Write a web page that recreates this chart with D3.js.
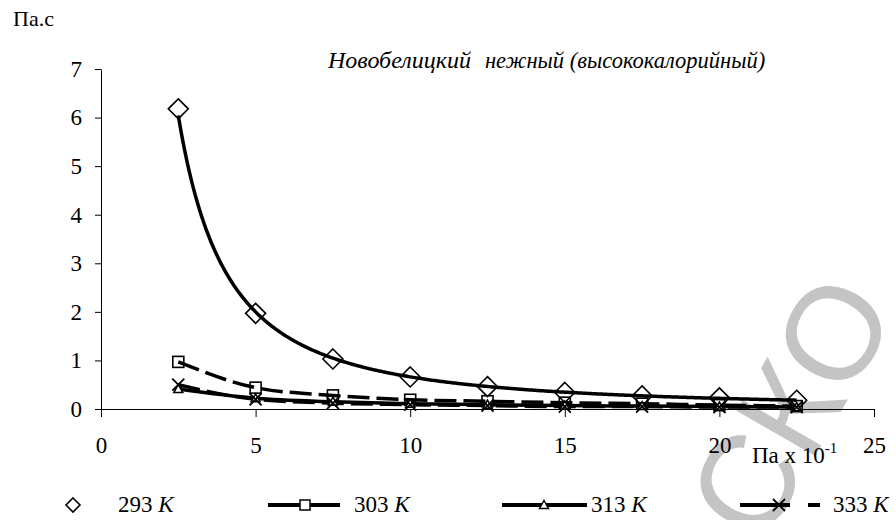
<!DOCTYPE html>
<html lang="ru">
<head>
<meta charset="utf-8">
<script src="https://d3js.org/d3.v7.min.js"></script>
<style>
  body { margin: 0; background: #fff; }
</style>
</head>
<body>
<div id="container"></div>
<script>
// shear rate, Pa x 10^-1
var rates = [2.5, 5, 7.5, 10, 12.5, 15, 17.5, 20, 22.5];
// viscosity, Pa.s
var k293 = [6.18, 1.97, 1.03, 0.66, 0.46, 0.34, 0.27, 0.23, 0.18];
var k303 = [0.97, 0.44, 0.28, 0.19, 0.16, 0.13, 0.11, 0.08, 0.06];
var k313 = [0.41, 0.22, 0.15, 0.11, 0.09, 0.07, 0.06, 0.05, 0.04];
var k333 = [0.50, 0.20, 0.12, 0.09, 0.07, 0.05, 0.05, 0.04, 0.04];
var seriesNames = ["293 K", "303 K", "313 K", "333 K"];
var xTicks = [0, 5, 10, 15, 20, 25];
var yTicks = [0, 1, 2, 3, 4, 5, 6, 7];

var FONT = "'Liberation Serif', 'Times New Roman', serif";
var width = 896, height = 520;

var svg = d3.select("#container")
    .append("svg")
    .attr("width", width)
    .attr("height", height);

var x = d3.scaleLinear().domain([0, 25]).range([101, 874]);
var y = d3.scaleLinear().domain([0, 7]).range([409, 69]);

// watermark
svg.append("text")
    .attr("transform", "translate(762,548) rotate(-60)")
    .style("font-family", "'Liberation Sans', Arial, sans-serif")
    .style("font-size", "132px")
    .style("fill", "#c4c4c4")
    .text("СКО");

// axes
var yAxis = svg.append("g")
    .attr("transform", "translate(" + x(0) + ",0)")
    .call(d3.axisLeft(y).tickValues(yTicks).tickFormat(d3.format("d"))
        .tickSize(6).tickSizeOuter(0).tickPadding(13));
var xAxis = svg.append("g")
    .attr("transform", "translate(0," + y(0) + ")")
    .call(d3.axisBottom(x).tickValues(xTicks).tickFormat(d3.format("d"))
        .tickSize(8).tickSizeOuter(0));
xAxis.selectAll(".tick text").attr("y", 44).attr("dy", null);
svg.selectAll(".domain, .tick line").attr("stroke", "#000");
svg.selectAll(".tick text").style("font-family", FONT).style("font-size", "23px").attr("fill", "#000");

// 293 K: points with a power trend line fitted to them (no series line)
var lx = rates.map(Math.log), ly = k293.map(Math.log);
var mx = d3.mean(lx), my = d3.mean(ly);
var b = d3.sum(lx, function(v, i) { return (v - mx) * (ly[i] - my); }) /
        d3.sum(lx, function(v) { return (v - mx) * (v - mx); });
var a = Math.exp(my - b * mx);
var trendX = d3.range(rates[0], rates[rates.length - 1] + 0.001, 0.05);

var line = d3.line()
    .x(function(d) { return x(d[0]); })
    .y(function(d) { return y(d[1]); });

function pairs(vals) { return rates.map(function(r, i) { return [r, vals[i]]; }); }

var smooth = d3.line()
    .x(function(d) { return x(d[0]); })
    .y(function(d) { return y(d[1]); })
    .curve(d3.curveMonotoneX);

// series lines
svg.append("path").datum(pairs(k333)).attr("d", smooth)
    .attr("fill", "none").attr("stroke", "#000").attr("stroke-width", 3.5)
    .attr("stroke-dasharray", "22,7");
svg.append("path").datum(pairs(k313)).attr("d", smooth)
    .attr("fill", "none").attr("stroke", "#000").attr("stroke-width", 3.5);
svg.append("path").datum(pairs(k303)).attr("d", smooth)
    .attr("fill", "none").attr("stroke", "#000").attr("stroke-width", 3.5)
    .attr("stroke-dasharray", "22,7");

// markers
function marker(g, type, cx, cy) {
  if (type === "diamond") {
    g.append("path").attr("d", "M" + cx + "," + (cy - 10) + "L" + (cx + 10) + "," + cy + "L" + cx + "," + (cy + 10) + "L" + (cx - 10) + "," + cy + "Z")
      .attr("fill", "none").attr("stroke", "#000").attr("stroke-width", 1.6);
  } else if (type === "square") {
    g.append("rect").attr("x", cx - 5.5).attr("y", cy - 5.5).attr("width", 11).attr("height", 11)
      .attr("fill", "none").attr("stroke", "#000").attr("stroke-width", 1.6);
  } else if (type === "triangle") {
    g.append("path").attr("d", "M" + cx + "," + (cy - 4.5) + "L" + (cx + 4.5) + "," + (cy + 3.5) + "L" + (cx - 4.5) + "," + (cy + 3.5) + "Z")
      .attr("fill", "#fff").attr("stroke", "#000").attr("stroke-width", 1.5);
  } else {
    g.append("path").attr("d", "M" + (cx - 6) + "," + (cy - 6) + "L" + (cx + 6) + "," + (cy + 6) + "M" + (cx + 6) + "," + (cy - 6) + "L" + (cx - 6) + "," + (cy + 6))
      .attr("stroke", "#000").attr("stroke-width", 1.8);
  }
}
var mg = svg.append("g");
var allSeries = [[k293, "diamond"], [k303, "square"], [k313, "triangle"], [k333, "cross"]];
allSeries.forEach(function(s) {
  s[0].forEach(function(v, i) { marker(mg, s[1], x(rates[i]), y(v)); });
});

// trend line on top
svg.append("path")
    .datum(trendX.map(function(t) { return [t, a * Math.pow(t, b)]; }))
    .attr("d", line)
    .attr("fill", "none").attr("stroke", "#000").attr("stroke-width", 3.5);

// labels
function txt(px, py, size) {
  return svg.append("text").attr("x", px).attr("y", py)
    .style("font-family", FONT).style("font-size", size + "px").attr("fill", "#000");
}
txt(13, 26, 22).text("Па.с");

var title = txt(328, 68, 22.5).style("font-style", "italic");
title.append("tspan").style("font-size", "24px").text("Новобелицкий");
title.append("tspan").attr("dx", 14).text("нежный (высококалорийный)");

var xl = txt(752, 463, 23);
xl.append("tspan").text("Па x 10");
xl.append("tspan").attr("dy", -10).style("font-size", "15px").text("-1");

// legend
var legend = [
  {name: seriesNames[0], type: "diamond", x1: null, x2: null, mx: 73, tx: 118, dash: null},
  {name: seriesNames[1], type: "square", x1: 268, x2: 340, mx: 305, tx: 354, dash: null},
  {name: seriesNames[2], type: "triangle", x1: 502, x2: 587, mx: 544, tx: 591, dash: null},
  {name: seriesNames[3], type: "cross", x1: 740, x2: 820, mx: 779, tx: 833, dash: "50,18"}
];
var lg = svg.append("g");
legend.forEach(function(d) {
  var ly0 = 505;
  if (d.x1 !== null) {
    lg.append("line").attr("x1", d.x1).attr("x2", d.x2).attr("y1", ly0).attr("y2", ly0)
      .attr("stroke", "#000").attr("stroke-width", 4)
      .attr("stroke-dasharray", d.dash);
  }
  var m = lg.append("g");
  if (d.type === "diamond") {
    m.append("path").attr("d", "M73,498L80,505L73,512L66,505Z").attr("fill", "#fff").attr("stroke", "#000").attr("stroke-width", 1.6);
  } else if (d.type === "square") {
    m.append("rect").attr("x", d.mx - 5).attr("y", ly0 - 5).attr("width", 10).attr("height", 10)
      .attr("fill", "#fff").attr("stroke", "#000").attr("stroke-width", 1.5);
  } else {
    marker(m, d.type, d.mx, ly0);
  }
  var t = txt(d.tx, 512, 23);
  var parts = d.name.split(" ");
  t.append("tspan").text(parts[0] + " ");
  t.append("tspan").style("font-style", "italic").text(parts[1]);
});
</script>
</body>
</html>
